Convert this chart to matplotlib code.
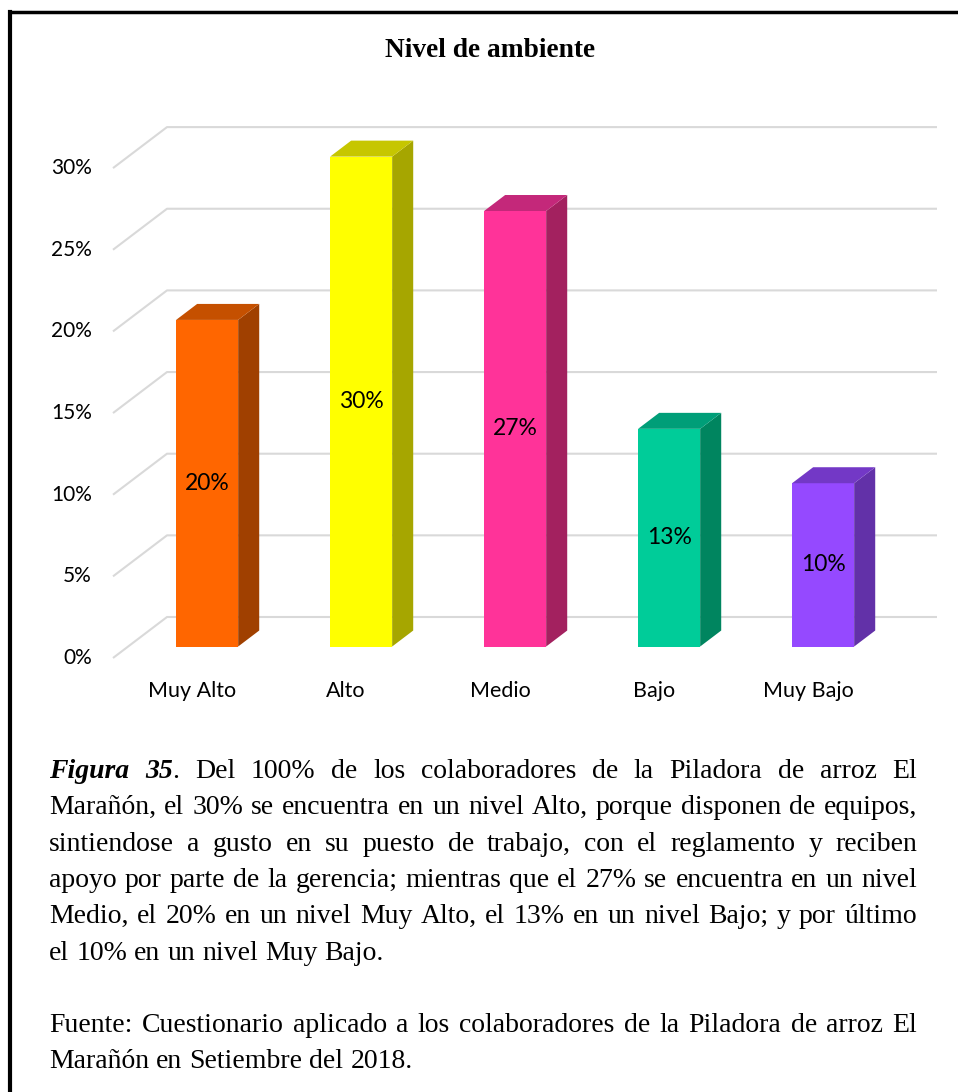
import matplotlib
matplotlib.use('Agg')
import matplotlib.pyplot as plt
from matplotlib.patches import Polygon
from matplotlib.lines import Line2D

categories = ['Muy Alto', 'Alto', 'Medio', 'Bajo', 'Muy Bajo']
values = [20.0, 30.0, 26.67, 13.33, 10.0]
value_labels = ['20%', '30%', '27%', '13%', '10%']
yticks = [0, 5, 10, 15, 20, 25, 30]
ytick_labels = ['0%', '5%', '10%', '15%', '20%', '25%', '30%']
front_colors = ['#FF6600', '#FFFF00', '#FF3399', '#00CC99', '#9549FF']
side_colors = ['#A04000', '#A6A600', '#A3215F', '#00855F', '#6231A8']
top_colors = ['#C55000', '#C6C600', '#C4287A', '#009E78', '#7338C6']

title = 'Nivel de ambiente'
R, BI = 'r', 'bi'
caption_lines = [
    ([[('Figura', BI)], [('35', BI), ('.', R)], 'Del', '100%', 'de', 'los', 'colaboradores',
      'de', 'la', 'Piladora', 'de', 'arroz', 'El'], True),
    ('Marañón, el 30% se encuentra en un nivel Alto, porque disponen de equipos,', True),
    ('sintiendose a gusto en su puesto de trabajo, con el reglamento y reciben', True),
    ('apoyo por parte de la gerencia; mientras que el 27% se encuentra en un nivel', True),
    ('Medio, el 20% en un nivel Muy Alto, el 13% en un nivel Bajo; y por último', True),
    ('el 10% en un nivel Muy Bajo.', False),
    ('', False),
    ('Fuente: Cuestionario aplicado a los colaboradores de la Piladora de arroz El', True),
    ('Marañón en Setiembre del 2018.', False),
]

W, H, DPI = 958, 1092, 100
fig = plt.figure(figsize=(W / DPI, H / DPI), dpi=DPI)

# pixel layout of the pseudo-3D chart
X0, PX_CAT = 192, 154      # front plane x of first category, px per category
Y0, PX_PCT = 658, 16.33    # front plane y of 0%, px per percent
DX, DY = 54 / PX_CAT, 41 / PX_PCT   # depth of the whole floor
T1, DEPTH, BW = 0.28, 0.39, 0.403   # bar front position, bar depth, bar width

ax = fig.add_axes([0, 0, 1, 1])
ax.set_xlim((0 - X0) / PX_CAT, (W - X0) / PX_CAT)
ax.set_ylim((Y0 - H) / PX_PCT, Y0 / PX_PCT)
ax.axis('off')

x_left = (113 - X0) / PX_CAT
x_right = (937 - X0) / PX_CAT
for t, lab in zip(yticks, ytick_labels):
    ax.plot([x_left, x_left + DX, x_right], [t, t + DY, t + DY],
            color='#D9D9D9', lw=1.5, zorder=1, solid_capstyle='butt')
    ax.text(x_left - 21 / PX_CAT, t, lab, ha='right', va='center',
            fontsize=15, family='Lato', color='#000000')

xs = [i + T1 * DX for i in range(len(categories))]
bars = ax.bar(xs, values, width=BW, bottom=T1 * DY, color=front_colors, zorder=3)
for i, bar in enumerate(bars):
    xl = bar.get_x()
    xr = xl + bar.get_width()
    y0 = bar.get_y()
    y1 = y0 + bar.get_height()
    ox, oy = DEPTH * DX, DEPTH * DY
    ax.add_patch(Polygon([(xr, y0), (xr + ox, y0 + oy), (xr + ox, y1 + oy), (xr, y1)],
                         closed=True, facecolor=side_colors[i], edgecolor='none', zorder=3))
    ax.add_patch(Polygon([(xl, y1), (xr, y1), (xr + ox, y1 + oy), (xl + ox, y1 + oy)],
                         closed=True, facecolor=top_colors[i], edgecolor='none', zorder=3))
    ax.text((xl + xr) / 2, (y0 + y1) / 2, value_labels[i], ha='center', va='center',
            fontsize=16.5, family='Lato', color='#000000', zorder=4)
    ax.text(i, (Y0 - 697) / PX_PCT, categories[i], ha='center', va='baseline',
            fontsize=15.5, family='Lato', color='#000000')

fig.text(490 / W, 1 - 57 / H, title, ha='center', va='baseline',
         fontsize=19.7, fontweight='bold', family='Liberation Serif')

# border (top and left only)
fig.add_artist(Line2D([10 / W, 1], [1 - 11.5 / H, 1 - 11.5 / H], color='black', lw=2.5,
                      transform=fig.transFigure))
fig.add_artist(Line2D([10 / W, 10 / W], [0, 1 - 11.5 / H], color='black', lw=3,
                      transform=fig.transFigure))

# caption, justified like the original document
renderer = fig.canvas.get_renderer()
CAP_SIZE = 20
styles = {
    R: dict(family='Liberation Serif', fontsize=CAP_SIZE),
    BI: dict(family='Liberation Serif', fontsize=CAP_SIZE, fontweight='bold', style='italic'),
}


def run_width(txt, st):
    t = fig.text(0, 0, txt, **styles[st])
    w = t.get_window_extent(renderer).width
    t.remove()
    return w


space_w = run_width('a a', R) - run_width('aa', R)
left_px, right_px = 49, 917
base0, line_gap = 778, 36.3

for n, (line, justify) in enumerate(caption_lines):
    words = line.split() if isinstance(line, str) else line
    if not words:
        continue
    words = [[(w, R)] if isinstance(w, str) else w for w in words]
    widths = [sum(run_width(t, s) for t, s in w) for w in words]
    if justify and len(words) > 1:
        gap = (right_px - left_px - sum(widths)) / (len(words) - 1)
    else:
        gap = space_w
    y = 1 - (base0 + n * line_gap) / H
    x = left_px
    for w, wd in zip(words, widths):
        xx = x
        for t, s in w:
            fig.text(xx / W, y, t, ha='left', va='baseline', **styles[s])
            xx += run_width(t, s)
        x += wd + gap

fig.savefig('out.png', dpi=DPI)
